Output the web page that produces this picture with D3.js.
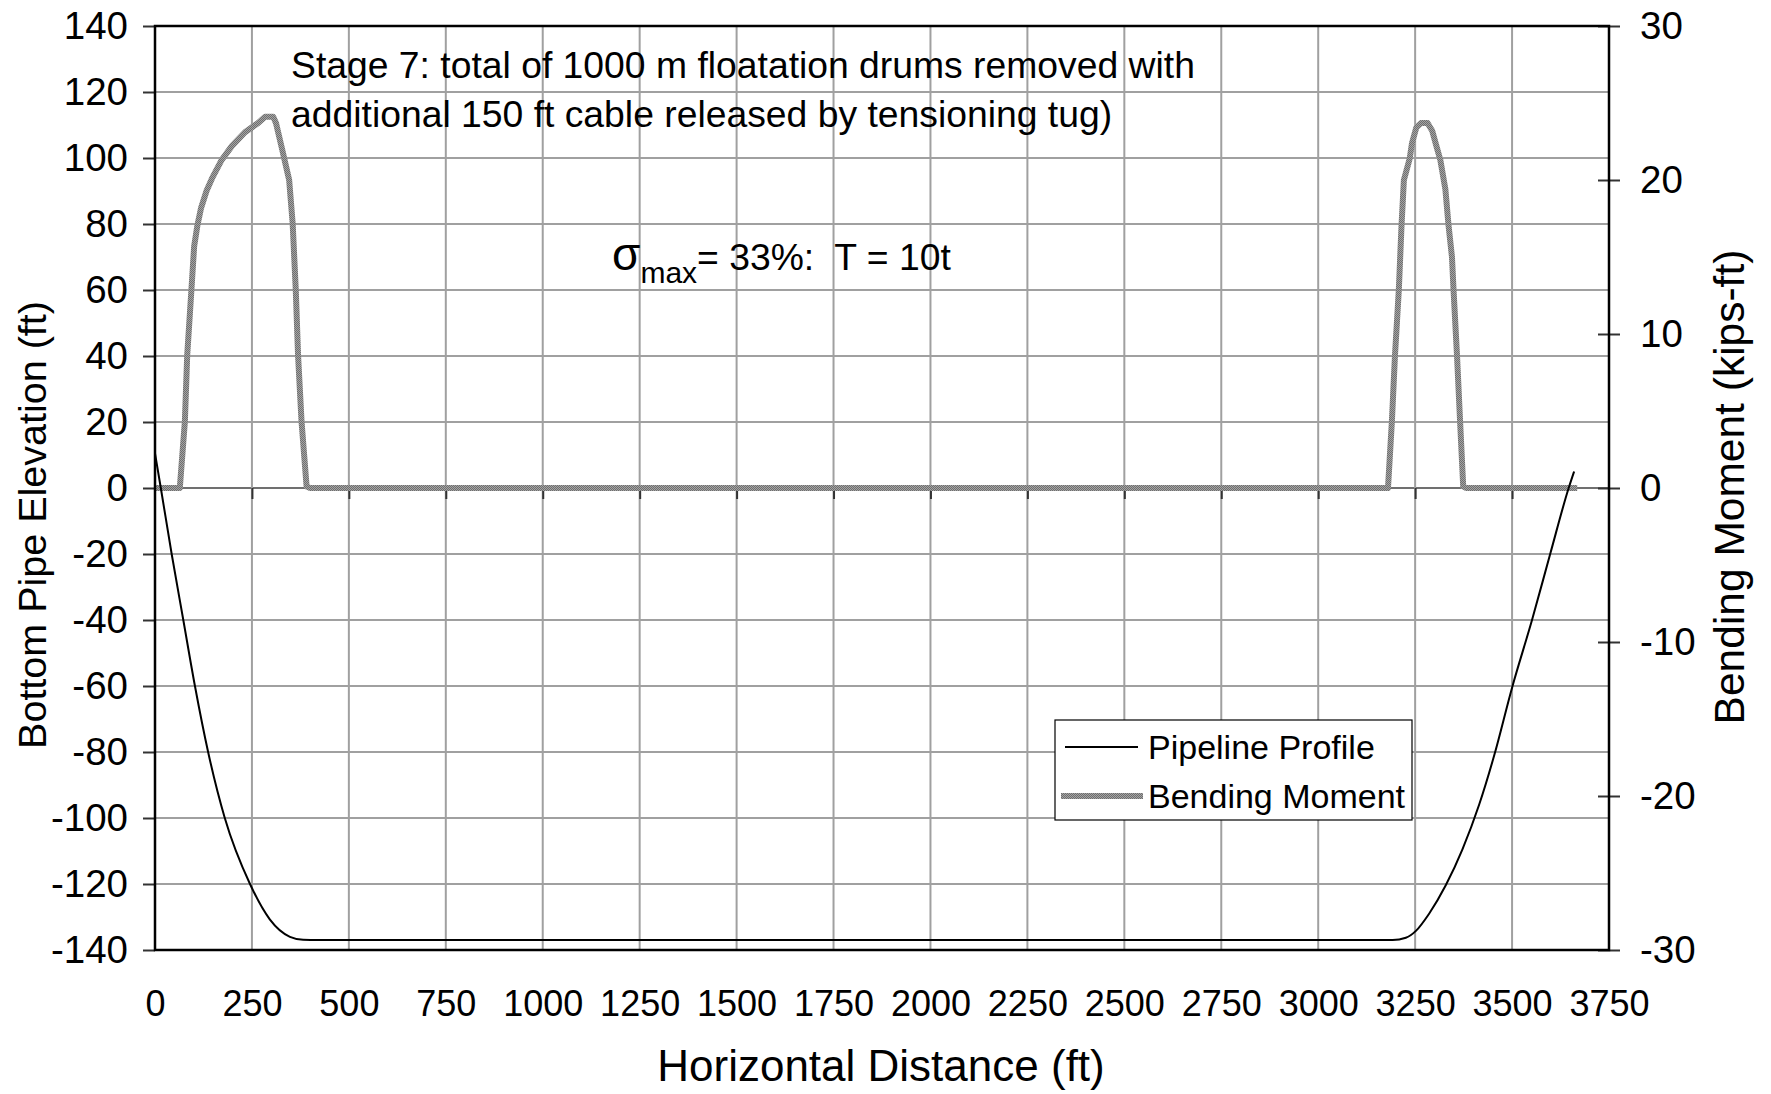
<!DOCTYPE html>
<html>
<head>
<meta charset="utf-8">
<script src="https://cdn.jsdelivr.net/npm/d3@7"></script>
<style>
  html, body { margin: 0; padding: 0; background: #fff; }
  svg { display: block; font-family: "Liberation Sans", Arial, sans-serif; }
  text { white-space: pre; }
</style>
</head>
<body>
<svg id="chart" width="1771" height="1094"></svg>
<script>
// Pipeline profile: horizontal distance (ft) vs bottom pipe elevation (ft)
const profileX = [0, 15, 43, 73, 103, 137, 180, 245, 296, 348, 382, 420,
                  3150, 3192, 3226, 3252, 3286, 3329, 3372, 3415, 3454, 3500, 3552, 3599, 3646, 3660];
const profileY = [10.5, 0, -20, -40, -60, -80, -100, -120, -130.7, -136, -136.9, -137,
                  -137, -137, -136.3, -134.2, -129, -120.4, -109.5, -96, -81, -60.5, -39.8, -19.7, 0, 5];

// Bending moment along the pipe (kips-ft)
const momentX = [0, 64, 77, 83, 94, 101, 109, 119, 133, 147, 172, 198, 232, 266, 284, 305,
                 312, 326, 346, 355, 363, 369, 378, 391, 400,
                 3180, 3190, 3198, 3208, 3215, 3221, 3236, 3242, 3253, 3265, 3282, 3294, 3306,
                 3315, 3328, 3336, 3345, 3349, 3358, 3366, 3374, 3381, 3668];
const momentY = [0, 0, 4.3, 8.6, 12.9, 15.7, 17.0, 18.2, 19.3, 20.1, 21.3, 22.2, 23.1, 23.7, 24.1, 24.1,
                 23.7, 22.2, 20.0, 17.2, 12.9, 8.6, 4.3, 0.1, 0,
                 0, 4.3, 8.6, 12.9, 17.1, 20.0, 21.4, 22.4, 23.4, 23.7, 23.7, 23.2, 22.1,
                 21.3, 19.4, 17.1, 15.0, 12.9, 8.6, 4.3, 0.1, 0, 0];

// Tick values
const xTicks = [0, 250, 500, 750, 1000, 1250, 1500, 1750, 2000, 2250, 2500, 2750, 3000, 3250, 3500, 3750];
const elevTicks = [-140, -120, -100, -80, -60, -40, -20, 0, 20, 40, 60, 80, 100, 120, 140];
const momentTicks = [-30, -20, -10, 0, 10, 20, 30];

const seriesNames = ["Pipeline Profile", "Bending Moment"];
const titleLines = ["Stage 7: total of 1000 m floatation drums removed with",
                    "additional 150 ft cable released by tensioning tug)"];

const plot = { left: 155, right: 1609, top: 26, bottom: 950 };
const valueTickFont = 38.5;
const distTickFont = 36;
const plain = d => String(d);

const svg = d3.select("#chart");
const x = d3.scaleLinear().domain([0, 3750]).range([plot.left, plot.right]);
const yL = d3.scaleLinear().domain([-140, 140]).range([plot.bottom, plot.top]);
const yR = d3.scaleLinear().domain([-30, 30]).range([plot.bottom, plot.top]);

// Dithered grey used for the bending-moment stroke
const defs = svg.append("defs");
const pat = defs.append("pattern").attr("id", "ditherGrey")
  .attr("patternUnits", "userSpaceOnUse").attr("width", 2).attr("height", 2);
pat.append("rect").attr("width", 2).attr("height", 2).attr("fill", "#a4a4a4");
pat.append("rect").attr("width", 1).attr("height", 1).attr("fill", "#6e6e6e");
pat.append("rect").attr("x", 1).attr("y", 1).attr("width", 1).attr("height", 1).attr("fill", "#6e6e6e");

const gridColor = "#a0a0a0";

// Grid
const grid = svg.append("g");
grid.selectAll("line.h").data(elevTicks.slice(1, -1)).join("line")
  .attr("x1", plot.left).attr("x2", plot.right)
  .attr("y1", d => yL(d)).attr("y2", d => yL(d))
  .attr("stroke", d => d === 0 ? "#707070" : gridColor).attr("stroke-width", 2);
grid.selectAll("line.v").data(xTicks.slice(1, -1)).join("line")
  .attr("y1", plot.top).attr("y2", plot.bottom)
  .attr("x1", d => x(d)).attr("x2", d => x(d))
  .attr("stroke", gridColor).attr("stroke-width", 2);

// Category ticks hanging off the zero line
const zeroAxis = svg.append("g").attr("transform", `translate(0,${yL(0)})`)
  .call(d3.axisBottom(x).tickValues(xTicks.slice(1, -1)).tickSize(11).tickFormat(""));
zeroAxis.select(".domain").remove();
zeroAxis.selectAll(".tick line").attr("stroke", "#333").attr("stroke-width", 2);

// Left axis
const axL = svg.append("g").attr("transform", `translate(${plot.left},0)`)
  .call(d3.axisLeft(yL).tickValues(elevTicks).tickFormat(plain).tickSize(12).tickPadding(15));
axL.select(".domain").remove();
axL.selectAll(".tick line").attr("stroke", "#333").attr("stroke-width", 2);
axL.selectAll(".tick text").attr("font-size", valueTickFont).attr("fill", "#000")
  .attr("font-family", "Liberation Sans, Arial, sans-serif");

// Right axis (ticks cross the axis line)
const axR = svg.append("g").attr("transform", `translate(${plot.right},0)`)
  .call(d3.axisRight(yR).tickValues(momentTicks).tickFormat(plain).tickSize(11).tickPadding(20));
axR.select(".domain").remove();
axR.selectAll(".tick line").attr("x1", -11).attr("stroke", "#333").attr("stroke-width", 2);
axR.selectAll(".tick text").attr("font-size", valueTickFont).attr("fill", "#000")
  .attr("font-family", "Liberation Sans, Arial, sans-serif");

// Bottom labels
const axB = svg.append("g").attr("transform", `translate(0,${plot.bottom})`)
  .call(d3.axisBottom(x).tickValues(xTicks).tickFormat(plain).tickSize(0).tickPadding(40));
axB.select(".domain").remove();
axB.selectAll(".tick text").attr("font-size", distTickFont).attr("fill", "#000")
  .attr("font-family", "Liberation Sans, Arial, sans-serif");

// Series
const profilePts = profileX.map((d, i) => [d, profileY[i]]);
const momentPts = momentX.map((d, i) => [d, momentY[i]]);

svg.append("path").datum(momentPts)
  .attr("d", d3.line().x(d => x(d[0])).y(d => yR(d[1])).curve(d3.curveLinear))
  .attr("fill", "none").attr("stroke", "url(#ditherGrey)").attr("stroke-width", 6)
  .attr("stroke-linejoin", "round");

svg.append("path").datum(profilePts)
  .attr("d", d3.line().x(d => x(d[0])).y(d => yL(d[1])).curve(d3.curveMonotoneX))
  .attr("fill", "none").attr("stroke", "#000").attr("stroke-width", 2);

// Plot frame
svg.append("rect").attr("x", plot.left).attr("y", plot.top)
  .attr("width", plot.right - plot.left).attr("height", plot.bottom - plot.top)
  .attr("fill", "none").attr("stroke", "#000").attr("stroke-width", 2.5);

// Axis titles
svg.append("text").attr("x", 881).attr("y", 1081)
  .attr("text-anchor", "middle").attr("font-size", 44).text("Horizontal Distance (ft)");
svg.append("text").attr("transform", `translate(46,525) rotate(-90)`)
  .attr("text-anchor", "middle").attr("font-size", 39.5).text("Bottom Pipe Elevation (ft)");
svg.append("text").attr("transform", `translate(1744,487) rotate(-90)`)
  .attr("text-anchor", "middle").attr("font-size", 42.5).text("Bending Moment (kips-ft)");

// Stage annotation
svg.append("g").selectAll("text").data(titleLines).join("text")
  .attr("x", 291).attr("y", (d, i) => 78 + i * 49)
  .attr("font-size", 37.3).text(d => d);

// Stress / tension note
const note = svg.append("text").attr("x", 612).attr("y", 270).attr("font-size", 37.3);
note.append("tspan").attr("font-size", 46).text("σ");
note.append("tspan").attr("font-size", 30).attr("dy", 13).text("max");
note.append("tspan").attr("dy", -13).text("= 33%:  T = 10t");

// Legend
const legend = svg.append("g");
legend.append("rect").attr("x", 1055).attr("y", 720).attr("width", 357).attr("height", 100)
  .attr("fill", "#fff").attr("stroke", "#000").attr("stroke-width", 1.2);
legend.append("line").attr("x1", 1065).attr("x2", 1138).attr("y1", 747).attr("y2", 747)
  .attr("stroke", "#000").attr("stroke-width", 2);
legend.append("line").attr("x1", 1061).attr("x2", 1143).attr("y1", 796).attr("y2", 796)
  .attr("stroke", "url(#ditherGrey)").attr("stroke-width", 6);
legend.selectAll("text").data(seriesNames).join("text")
  .attr("x", 1148).attr("y", (d, i) => 759 + i * 49)
  .attr("font-size", 34).text(d => d);
</script>
</body>
</html>
